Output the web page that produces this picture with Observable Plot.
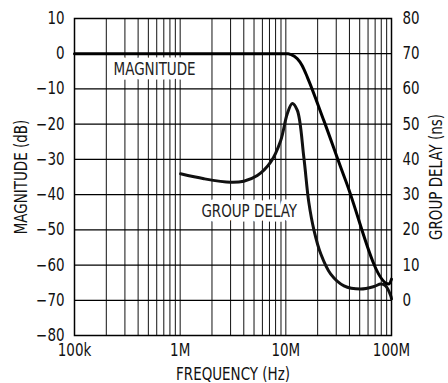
<!DOCTYPE html>
<html><head><meta charset="utf-8">
<script src="https://cdn.jsdelivr.net/npm/d3@7"></script>
<script src="https://cdn.jsdelivr.net/npm/@observablehq/plot@0.6"></script>
<style>
body{margin:0;background:#fff}
#chart svg{display:block;font-family:"Liberation Sans Narrow","Arial Narrow","DejaVu Sans Condensed",sans-serif}
</style>
</head><body><div id="chart"></div>
<script>
// Tick values and labels
const xTicks = [1e5, 1e6, 1e7, 1e8];
const xTickLabels = ["100k", "1M", "10M", "100M"];
const dbTicks = [-80, -70, -60, -50, -40, -30, -20, -10, 0, 10];
const nsTicks = [0, 10, 20, 30, 40, 50, 60, 70, 80];
const NS_ZERO_DB = -70; // 0 ns sits on the -70 dB gridline, same 10-per-division scale

// Magnitude (dB) vs frequency (Hz)
const magFreq = [1e5, 1e6, 1e7, 1.05e7, 1.11e7, 1.285e7, 1.43e7, 1.6e7, 2.29e7, 3.68e7, 9.47e7, 1e8];
const magDb   = [0, 0, 0, 0, -0.2, -1.45, -3.4, -6.7, -19, -36, -65.4, -64];

// Group delay (ns) vs frequency (Hz)
const gdFreq = [1.01e6, 1.68e6, 3.0e6, 4.0e6, 5.37e6, 7.18e6, 8.93e6, 1.03e7, 1.15e7, 1.285e7, 1.48e7, 1.65e7, 1.85e7, 2.14e7, 2.65e7, 3.55e7, 5.1e7, 6.83e7, 7.9e7, 8.8e7, 9.83e7, 1e8];
const gdNs   = [35.9, 34.5, 33.5, 33.8, 35.4, 39.2, 45.3, 52.9, 55.9, 53.9, 40.6, 27.8, 19.8, 13.2, 7.5, 4.1, 3.2, 3.9, 4.6, 4.1, 1.3, 0.4];

// Curve labels
const labelText = ["MAGNITUDE", "GROUP DELAY"];
const labelFreq = [5.73e5, 4.5e6];
const labelDb   = [-4.4, -44.8];

const mag = magFreq.map((f, i) => ({f, v: magDb[i]}));
const gd = gdFreq.map((f, i) => ({f, ns: gdNs[i]}));
const labels = labelText.map((t, i) => ({t, f: labelFreq[i], v: labelDb[i]}));

// log grid: 1..9 x each decade
const gridX = [];
for (let d = 1e5; d < 1e8; d *= 10) for (let k = 1; k <= 9; k++) gridX.push(k * d);
gridX.push(1e8);

const FS = 17;
const chart = Plot.plot({
  width: 448,
  height: 383,
  marginLeft: 74,
  marginRight: 57,
  marginTop: 18,
  marginBottom: 48,
  style: {fontSize: FS + "px", color: "#111", background: "#fff"},
  x: {type: "log", domain: [1e5, 1e8]},
  y: {domain: [-80, 10]},
  marks: [
    Plot.ruleX(gridX, {stroke: "#111", strokeWidth: 1}),
    Plot.ruleY(dbTicks, {stroke: "#000", strokeWidth: 1.2}),
    Plot.text(labels, {x: "f", y: "v", text: "t", fontSize: FS, fill: "#222", stroke: "white", strokeWidth: 9, strokeLinejoin: "round"}),
    Plot.line(gd, {x: "f", y: d => d.ns + NS_ZERO_DB, curve: "catmull-rom", stroke: "#111", strokeWidth: 3}),
    Plot.line(mag, {x: "f", y: "v", curve: "monotone-x", stroke: "#000", strokeWidth: 3}),
    Plot.frame({stroke: "#000", strokeWidth: 1.5}),
    Plot.axisX({ticks: xTicks, tickFormat: (d) => xTickLabels[xTicks.indexOf(d)], tickSize: 0, tickPadding: 8, fontSize: FS,
      label: "FREQUENCY (Hz)", labelAnchor: "center", labelArrow: "none", labelOffset: 44}),
    Plot.axisY({ticks: dbTicks, tickFormat: d => d < 0 ? "\u2212" + (-d) : String(d), tickSize: 0, tickPadding: 10, fontSize: FS,
      label: "MAGNITUDE (dB)", labelAnchor: "center", labelArrow: "none", labelOffset: 60}),
    Plot.axisY({anchor: "right", ticks: nsTicks.map(n => n + NS_ZERO_DB), tickFormat: d => String(d - NS_ZERO_DB), tickSize: 0, tickPadding: 11, fontSize: FS,
      label: "GROUP DELAY (ns)", labelAnchor: "center", labelArrow: "none", labelOffset: 50})
  ]
});
document.getElementById("chart").appendChild(chart);

// Narrow the condensed fallback face to match the reference's narrow lettering
chart.querySelectorAll("text").forEach(t => {
  const parts = t.querySelectorAll("tspan");
  const targets = parts.length ? [...parts] : [t];
  targets.forEach(el => {
    const len = el.getComputedTextLength();
    if (len > 0) {
      el.setAttribute("textLength", (len * 0.88).toFixed(1));
      el.setAttribute("lengthAdjust", "spacingAndGlyphs");
    }
  });
});
</script>
</body></html>
